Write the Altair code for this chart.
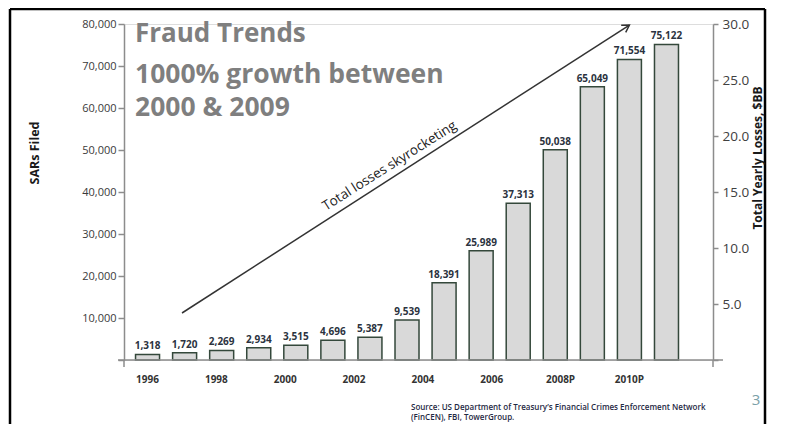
import altair as alt
import pandas as pd

# ---------------- data ----------------
years = list(range(1996, 2011))
sars = [1318, 1720, 2269, 2934, 3515, 4696, 5387, 9539, 18391, 25989,
        37313, 50038, 65049, 71554, 75122]
year_labels = ["1996", "1998", "2000", "2002", "2004", "2006", "2008P", "2010P"]
left_ticks = [0, 10000, 20000, 30000, 40000, 50000, 60000, 70000, 80000]
right_ticks = [0, 5, 10, 15, 20, 25, 30]
left_max = 80000
right_max = 30
title_line1 = ["Fraud Trends"]
title_lines23 = ["1000% growth between", "2000 & 2009"]
arrow_x = [0.93]
arrow_y = [11190]
arrow_x2 = [13.0]
arrow_y2 = [79760]
arrow_label = ["Total losses skyrocketing"]
arrow_label_x = [6.53]
arrow_label_y = [46190]
source_lines = ["Source: US Department of Treasury\u2019s Financial Crimes Enforcement Network",
                "(FinCEN), FBI, TowerGroup."]
page_no = "3"

W, H = 589, 336
PAD_B = 64
FONT = "Open Sans"
AXIS_GRAY = "#8c8c8c"

bars_df = pd.DataFrame({
    "idx": list(range(len(years))),
    "year": years,
    "sars": sars,
    "label": [f"{v:,}" for v in sars],
})
boundaries = [i - 0.5 for i in range(len(years) + 1)]
right_positions = [v * left_max / right_max for v in right_ticks]

xs = alt.Scale(domain=[-0.5, 15.12], nice=False, zero=False)
ys = alt.Scale(domain=[0, left_max], nice=False)

base = alt.Chart(bars_df)

bars = base.mark_bar(size=24, fill="#d9d9d9", stroke="#34483b", strokeWidth=1.5).encode(
    x=alt.X("idx:Q", scale=xs,
            axis=alt.Axis(values=boundaries, labels=False, tickSize=8, tickColor=AXIS_GRAY,
                          tickWidth=1.5, domain=False, grid=False, title=None)),
    y=alt.Y("sars:Q", scale=ys,
            axis=alt.Axis(values=left_ticks,
                          labelExpr="datum.value == 0 ? '' : format(datum.value, ',')",
                          tickSize=6, tickColor=AXIS_GRAY, tickWidth=1.5,
                          domainColor=AXIS_GRAY, domainWidth=1.5,
                          labelFontSize=11, labelColor="#3a3a3a", labelFont=FONT,
                          labelPadding=2, grid=False, title=None)),
)

right_axis = base.mark_point(opacity=0).encode(
    x=alt.X("idx:Q", scale=xs, axis=None),
    y=alt.Y("sars:Q", scale=ys,
            axis=alt.Axis(orient="right", values=right_positions,
                          labelExpr=f"datum.value == 0 ? '' : format(datum.value * {right_max} / {left_max}, '.1f')",
                          tickSize=5, tickColor=AXIS_GRAY, tickWidth=1.5,
                          domainColor=AXIS_GRAY, domainWidth=1.5,
                          labelFontSize=13.5, labelColor="#404040", labelFont=FONT,
                          labelPadding=4, grid=False, title=None)),
)

bar_labels = base.mark_text(dy=-3, baseline="bottom", fontWeight="bold", fontSize=10,
                            color="#2b3340", font=FONT).encode(
    x=alt.X("idx:Q", scale=xs, axis=None),
    y=alt.Y("sars:Q", scale=ys, axis=None),
    text="label:N",
)

year_df = pd.DataFrame({"k": list(range(len(year_labels))), "label": year_labels})
year_text = alt.Chart(year_df).transform_calculate(
    pos="datum.k * 13 / 7"
).mark_text(baseline="middle", fontWeight="bold", fontSize=10, color="#333333", font=FONT).encode(
    x=alt.X("pos:Q", scale=xs, axis=None),
    y=alt.value(H + 20),
    text="label:N",
)

arrow_df = pd.DataFrame({"x": arrow_x, "y": arrow_y, "x2": arrow_x2, "y2": arrow_y2})
arrow = alt.Chart(arrow_df).mark_rule(strokeWidth=1.5, color="#333333").encode(
    x=alt.X("x:Q", scale=xs, axis=None),
    y=alt.Y("y:Q", scale=ys, axis=None),
    x2="x2:Q",
    y2="y2:Q",
)
arrowhead = alt.Chart(arrow_df).mark_point(
    shape="M -1 -0.6 L 0 0 L -1 0.6", filled=False, size=200, angle=327.7,
    stroke="#333333", strokeWidth=1.5, opacity=1,
).encode(
    x=alt.X("x2:Q", scale=xs, axis=None),
    y=alt.Y("y2:Q", scale=ys, axis=None),
)
alabel_df = pd.DataFrame({"x": arrow_label_x, "y": arrow_label_y, "t": arrow_label})
arrow_text = alt.Chart(alabel_df).mark_text(angle=327.7, fontSize=13.5, color="#222222",
                                            font=FONT).encode(
    x=alt.X("x:Q", scale=xs, axis=None),
    y=alt.Y("y:Q", scale=ys, axis=None),
    text="t:N",
)

one = pd.DataFrame({"a": [0]})


def rule(color, width, **enc):
    return alt.Chart(one).mark_rule(color=color, strokeWidth=width).encode(**enc)


x_axis_line = rule(AXIS_GRAY, 1.5, x=alt.value(-6), x2=alt.value(W + 10), y=alt.value(H))
left_ext = rule(AXIS_GRAY, 1.5, x=alt.value(0), y=alt.value(H), y2=alt.value(H + 7))
right_ext = rule(AXIS_GRAY, 1.5, x=alt.value(W), y=alt.value(H), y2=alt.value(H + 7))

FR = 641
frame_top = rule("#000000", 2.5, x=alt.value(-114), x2=alt.value(FR), y=alt.value(-15))
frame_left = rule("#000000", 2.5, x=alt.value(-114), y=alt.value(-15), y2=alt.value(H + PAD_B))
frame_right = rule("#000000", 2.5, x=alt.value(FR), y=alt.value(-15), y2=alt.value(H + PAD_B))

title1 = alt.Chart(one).mark_text(align="left", baseline="alphabetic", fontSize=26,
                                  fontWeight="bold", font=FONT, color="#7f7f7f").encode(
    x=alt.value(11), y=alt.value(18), text=alt.value(title_line1[0]))
title23 = alt.Chart(one).mark_text(align="left", baseline="alphabetic", fontSize=26.5,
                                   fontWeight="bold", font=FONT, color="#7f7f7f",
                                   lineHeight=32.5).encode(
    x=alt.value(11), y=alt.value(59), text=alt.value(title_lines23))

left_title = alt.Chart(one).mark_text(angle=270, fontSize=12.5, fontWeight="bold", font=FONT,
                                      color="#1a1a1a", baseline="middle").encode(
    x=alt.value(-89), y=alt.value(129), text=alt.value("SARs Filed"))
right_title = alt.Chart(one).mark_text(angle=270, fontSize=12, fontWeight="bold", font=FONT,
                                       color="#1a1a1a", baseline="middle").encode(
    x=alt.value(634), y=alt.value(134), text=alt.value("Total Yearly Losses, $BB"))

source = alt.Chart(one).mark_text(align="left", baseline="middle", fontSize=8, font=FONT,
                                  fontWeight=600, color="#1f2a44", lineHeight=10).encode(
    x=alt.value(287), y=alt.value(384), text=alt.value(source_lines))
page = alt.Chart(one).mark_text(fontSize=15, font=FONT, color="#7aa0a8", baseline="middle").encode(
    x=alt.value(632), y=alt.value(376), text=alt.value(page_no))

chart = alt.layer(
    bars, right_axis, bar_labels, year_text, arrow, arrowhead, arrow_text,
    x_axis_line, left_ext, right_ext,
    frame_top, frame_left, frame_right,
    title1, title23, left_title, right_title, source, page,
).resolve_axis(y="independent").properties(
    width=W, height=H,
    autosize=alt.AutoSizeParams(type="none"),
    padding={"left": 116, "top": 16, "right": 65, "bottom": PAD_B},
).configure_view(stroke=None).configure(background="white")

chart.save("out.html", embed_options={"renderer": "svg", "actions": False})
